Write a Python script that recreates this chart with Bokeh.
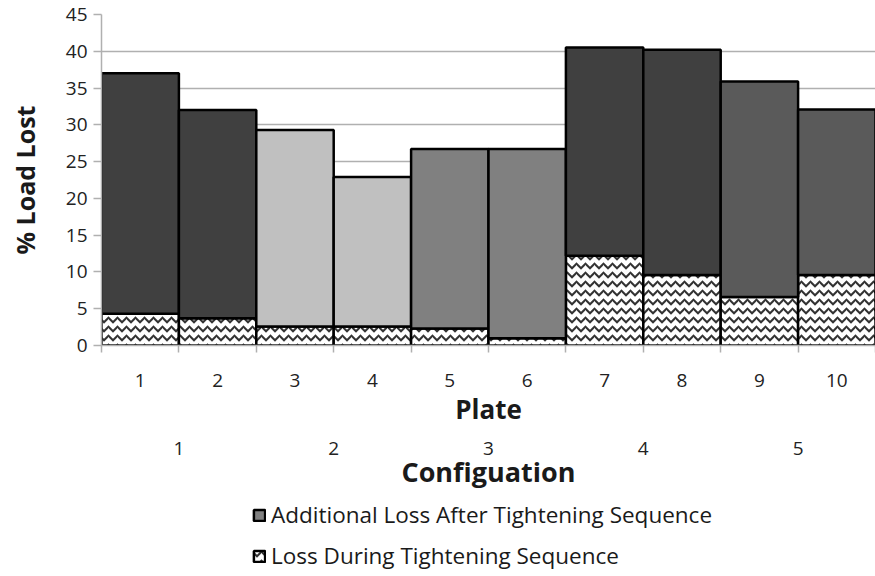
from bokeh.plotting import figure
from bokeh.layouts import column
from bokeh.models import (LinearAxis, FixedTicker, ColumnDataSource, Range1d,
                          Legend, LegendItem)
from bokeh.embed import file_html
from bokeh.resources import INLINE

# ---------------- data ----------------
plates = ["1", "2", "3", "4", "5", "6", "7", "8", "9", "10"]
configs = ["1", "2", "3", "4", "5"]
plate_config = [0, 0, 1, 1, 2, 2, 3, 3, 4, 4]
total_loss = [37.0, 32.0, 29.3, 22.9, 26.7, 26.7, 40.5, 40.2, 35.9, 32.1]
loss_during = [4.3, 3.7, 2.6, 2.6, 2.3, 1.0, 12.2, 9.6, 6.6, 9.6]
config_colors = ["#404040", "#c0c0c0", "#808080", "#404040", "#5a5a5a"]
y_ticks = [0, 5, 10, 15, 20, 25, 30, 35, 40, 45]
series_names = ["Additional Loss After Tightening Sequence",
                "Loss During Tightening Sequence"]

# ---------------- derived ----------------
n = len(plates)
xc = [i + 0.5 for i in range(n)]
src = ColumnDataSource(dict(
    x=xc,
    during=loss_during,
    total=total_loss,
    color=[config_colors[c] for c in plate_config],
))

FONT = "Open Sans"
GRID = "#b0b0b0"
TXT = "#1a1a1a"

H_MAIN = 492
p = figure(width=875, height=H_MAIN, x_range=Range1d(0, n), y_range=Range1d(0, 45),
           output_backend="svg", toolbar_location=None,
           x_axis_location=None, y_axis_location=None,
           min_border_left=101, min_border_right=0, min_border_top=14,
           min_border_bottom=H_MAIN - 345)
p.outline_line_color = None

# y axis
yax = LinearAxis(ticker=FixedTicker(ticks=y_ticks))
yax.axis_label = "% Load Lost"
yax.axis_label_text_font = FONT
yax.axis_label_text_font_style = "bold"
yax.axis_label_text_font_size = "25px"
yax.axis_label_text_color = TXT
yax.axis_label_standoff = 21
yax.major_label_text_font = FONT
yax.major_label_text_font_size = "19px"
yax.major_label_text_color = "#222222"
yax.major_label_standoff = 6
yax.major_tick_out = 8
yax.major_tick_in = 0
yax.minor_tick_line_color = None
yax.major_tick_line_color = GRID
yax.major_tick_line_width = 1.5
yax.axis_line_color = GRID
yax.axis_line_width = 1.5
p.add_layout(yax, "left")

p.xgrid.visible = False
p.ygrid.ticker = FixedTicker(ticks=y_ticks)
p.ygrid.grid_line_color = GRID
p.ygrid.grid_line_width = 1.5

# x axis A: tick marks at plate boundaries
xa = LinearAxis(ticker=FixedTicker(ticks=list(range(n + 1))))
xa.major_label_text_font_size = "1px"
xa.major_label_text_alpha = 0
xa.major_label_standoff = 0
xa.major_tick_out = 7
xa.major_tick_in = 0
xa.minor_tick_line_color = None
xa.major_tick_line_color = GRID
xa.major_tick_line_width = 1.5
xa.axis_line_color = GRID
xa.axis_line_width = 1.5
p.add_layout(xa, "below")

# x axis B: plate labels
xb = LinearAxis(ticker=FixedTicker(ticks=xc))
xb.major_label_overrides = {x: lab for x, lab in zip(xc, plates)}
xb.axis_label = "Plate"
xb.axis_label_text_font = FONT
xb.axis_label_text_font_style = "bold"
xb.axis_label_text_font_size = "26px"
xb.axis_label_text_color = TXT
xb.axis_label_standoff = 1
xb.major_label_text_font = FONT
xb.major_label_text_font_size = "19px"
xb.major_label_text_color = "#222222"
xb.major_label_standoff = 15
xb.major_tick_line_color = None
xb.minor_tick_line_color = None
xb.axis_line_color = None
p.add_layout(xb, "below")

# x axis C: configuration labels
cfg_x = [2 * i + 1 for i in range(len(configs))]
xcax = LinearAxis(ticker=FixedTicker(ticks=cfg_x))
xcax.major_label_overrides = {x: lab for x, lab in zip(cfg_x, configs)}
xcax.axis_label = "Configuation"
xcax.axis_label_text_font = FONT
xcax.axis_label_text_font_style = "bold"
xcax.axis_label_text_font_size = "27px"
xcax.axis_label_text_color = TXT
xcax.axis_label_standoff = -5
xcax.major_label_text_font = FONT
xcax.major_label_text_font_size = "19px"
xcax.major_label_text_color = "#222222"
xcax.major_label_standoff = 6
xcax.major_tick_line_color = None
xcax.minor_tick_line_color = None
xcax.axis_line_color = None
p.add_layout(xcax, "below")

# bars
during_style = dict(fill_color="white", hatch_pattern="horizontal_wave",
                    hatch_color="#333333", hatch_scale=9, hatch_weight=2,
                    line_color="black", line_width=2.5)
add_style = dict(fill_color="color", line_color="black", line_width=2.5)

p.vbar(x="x", width=1, bottom=0, top="during", source=src, **during_style)
p.vbar(x="x", width=1, bottom="during", top="total", source=src, **add_style)

# legend strip (separate figure below the chart)
H_LEG = 576 - H_MAIN
p2 = figure(width=875, height=H_LEG, x_range=Range1d(0, n), y_range=Range1d(0, 45),
            output_backend="svg", toolbar_location=None,
            x_axis_location=None, y_axis_location=None,
            min_border=0)
p2.outline_line_color = None
p2.grid.visible = False
l_during = p2.vbar(x="x", width=1, bottom=0, top="during", source=src,
                   visible=False, **during_style)
l_add = p2.vbar(x="x", width=1, bottom="during", top="total", source=src,
                visible=False, **add_style)

legend = Legend(items=[
    LegendItem(label=series_names[0], renderers=[l_add], index=4),
    LegendItem(label=series_names[1], renderers=[l_during], index=0),
])
legend.location = (151, 5)
legend.orientation = "vertical"
legend.label_text_font = FONT
legend.label_text_font_size = "22.5px"
legend.label_text_color = TXT
legend.glyph_width = 14
legend.glyph_height = 14
legend.label_height = 20
legend.label_standoff = 5
legend.spacing = 10
legend.padding = 4
legend.margin = 0
legend.border_line_color = None
legend.background_fill_alpha = 0
p2.add_layout(legend, "center")

open("out.html", "w").write(file_html(column(p, p2, spacing=0), INLINE))
